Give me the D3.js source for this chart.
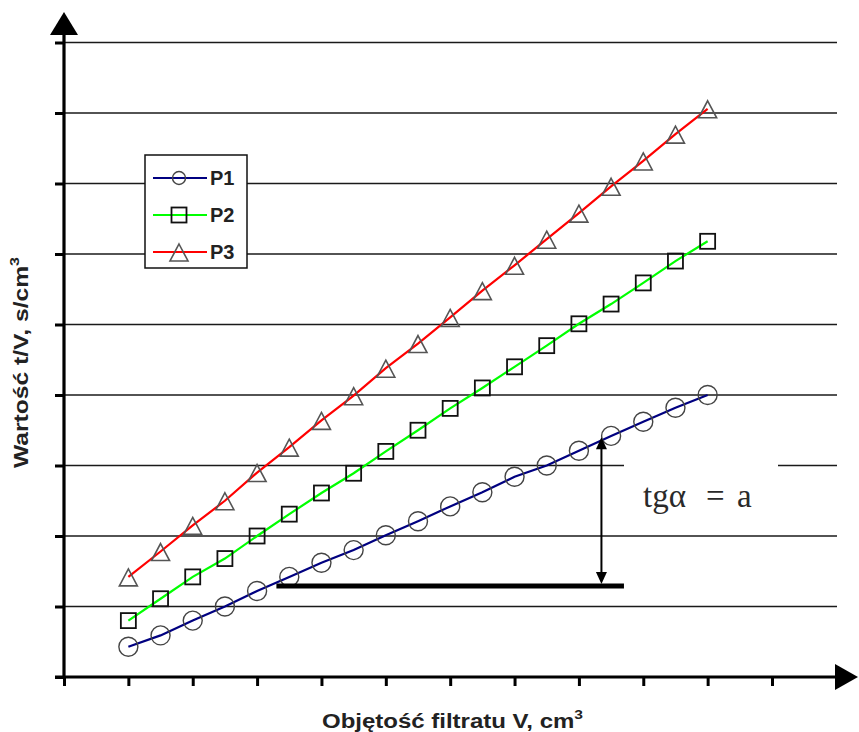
<!DOCTYPE html>
<html>
<head>
<meta charset="utf-8">
<script src="https://cdn.jsdelivr.net/npm/d3@7"></script>
<style>
  html, body { margin: 0; padding: 0; background: #fff; }
  svg { display: block; }
</style>
</head>
<body>
<svg id="chart" width="859" height="732"></svg>
<script>
// ---- data ----
const volumes = [1, 1.5, 2, 2.5, 3, 3.5, 4, 4.5, 5, 5.5, 6, 6.5, 7, 7.5, 8, 8.5, 9, 9.5, 10];
const seriesNames = ["P1", "P2", "P3"];
const p1 = [0.43, 0.59, 0.80, 1.00, 1.22, 1.42, 1.62, 1.80, 2.01, 2.21, 2.42, 2.62, 2.84, 3.00, 3.21, 3.42, 3.62, 3.82, 4.00];
const p2 = [0.80, 1.11, 1.42, 1.68, 2.00, 2.31, 2.61, 2.89, 3.20, 3.50, 3.81, 4.10, 4.40, 4.70, 5.01, 5.29, 5.59, 5.90, 6.18];
const p3 = [1.42, 1.78, 2.15, 2.50, 2.90, 3.26, 3.64, 3.99, 4.38, 4.73, 5.10, 5.48, 5.84, 6.21, 6.58, 6.96, 7.32, 7.70, 8.06];
const xTicks = [0, 1, 2, 3, 4, 5, 6, 7, 8, 9, 10, 11];
const yTicks = [0, 1, 2, 3, 4, 5, 6, 7, 8, 9];
const xLabel = "Objętość filtratu V, cm";
const yLabel = "Wartość t/V, s/cm";
const annotationParts = ["tgα", "=", "a"];
// annotation in data units
const slopeBase = { x0: 3.3, x1: 8.7, y: 1.29 };
const slopeArrow = { x: 8.35, y0: 1.32, y1: 3.40 };

// ---- layout ----
const svg = d3.select("#chart");
const x = d3.scaleLinear().domain([0, 11]).range([64, 772]);
const y = d3.scaleLinear().domain([0, 9]).range([677, 42.5]);
const colors = { P1: "#000080", P2: "#00ff00", P3: "#ff0000" };
const data = [p1, p2, p3].map((vals, i) => ({ name: seriesNames[i], values: vals.map((v, j) => ({ x: volumes[j], y: v })) }));

// gridlines
const grid = svg.append("g");
grid.selectAll("line").data(yTicks.filter(d => d > 0)).join("line")
  .attr("x1", x(0)).attr("x2", 837)
  .attr("y1", d => y(d)).attr("y2", d => y(d))
  .attr("stroke", "#1a1a1a").attr("stroke-width", 1.4);

// axes (ticks via d3 axes)
const yAxis = svg.append("g").attr("transform", `translate(${x(0)},0)`)
  .call(d3.axisLeft(y).tickValues(yTicks).tickSize(9).tickFormat(""));
const xAxis = svg.append("g").attr("transform", `translate(0,${y(0)})`)
  .call(d3.axisBottom(x).tickValues(xTicks).tickSize(9).tickFormat(""));
[yAxis, xAxis].forEach(a => {
  a.select(".domain").remove();
  a.selectAll(".tick line").attr("stroke", "#000").attr("stroke-width", 3);
});
// axis lines with arrows
svg.append("line").attr("x1", x(0)).attr("x2", x(0)).attr("y1", y(0) + 1.5).attr("y2", 30)
  .attr("stroke", "#000").attr("stroke-width", 3.2);
svg.append("path").attr("d", `M${x(0)},12 L${x(0) - 14},35 L${x(0) + 14},35 Z`).attr("fill", "#000");
svg.append("line").attr("x1", 55).attr("x2", 840).attr("y1", y(0)).attr("y2", y(0))
  .attr("stroke", "#000").attr("stroke-width", 3.2);
svg.append("path").attr("d", `M858,${y(0)} L835,${y(0) - 13} L835,${y(0) + 13} Z`).attr("fill", "#000");

// series lines
const line = d3.line().x(d => x(d.x)).y(d => y(d.y));
svg.append("g").selectAll("path").data(data).join("path")
  .attr("d", d => line(d.values))
  .attr("fill", "none")
  .attr("stroke", d => colors[d.name])
  .attr("stroke-width", 2.2);

// markers
const markerShape = {
  P1: g => g.append("circle").attr("r", 9.5).attr("fill", "none").attr("stroke", "#444").attr("stroke-width", 1.4),
  P2: g => g.append("rect").attr("x", -7.5).attr("y", -7.5).attr("width", 15).attr("height", 15)
        .attr("fill", "none").attr("stroke", "#111").attr("stroke-width", 1.8),
  P3: g => g.append("path").attr("d", "M0,-8 L9,9 L-9,9 Z")
        .attr("fill", "none").attr("stroke", "#555").attr("stroke-width", 1.6)
};
data.forEach(s => {
  svg.append("g").selectAll("g").data(s.values).join("g")
    .attr("transform", d => `translate(${x(d.x)},${y(d.y)})`)
    .each(function () { markerShape[s.name](d3.select(this)); });
});

// annotation
svg.append("line").attr("x1", x(slopeBase.x0)).attr("x2", x(slopeBase.x1))
  .attr("y1", y(slopeBase.y)).attr("y2", y(slopeBase.y))
  .attr("stroke", "#000").attr("stroke-width", 5);
const ax = x(slopeArrow.x), ayTop = y(slopeArrow.y1), ayBot = y(slopeArrow.y0);
svg.append("line").attr("x1", ax).attr("x2", ax).attr("y1", ayTop + 8).attr("y2", ayBot - 8)
  .attr("stroke", "#000").attr("stroke-width", 2);
svg.append("path").attr("d", `M${ax},${ayTop} L${ax - 5.5},${ayTop + 12} L${ax + 5.5},${ayTop + 12} Z`).attr("fill", "#000");
svg.append("path").attr("d", `M${ax},${ayBot} L${ax - 5.5},${ayBot - 12} L${ax + 5.5},${ayBot - 12} Z`).attr("fill", "#000");

// text box interrupting the gridline
svg.append("rect").attr("x", 624).attr("y", 455).attr("width", 154).attr("height", 60).attr("fill", "#fff");
const at = svg.append("text").attr("y", 507)
  .attr("font-family", "'Liberation Serif', 'Times New Roman', serif")
  .attr("font-size", 33).attr("fill", "#2a2a2a");
const partX = [643, 706, 737];
annotationParts.forEach((p, i) => at.append("tspan").attr("x", partX[i]).text(p));

// legend
const lg = svg.append("g");
lg.append("rect").attr("x", 145).attr("y", 155).attr("width", 102).attr("height", 113)
  .attr("fill", "#fff").attr("stroke", "#111").attr("stroke-width", 1.5);
seriesNames.forEach((name, i) => {
  const ly = 178 + i * 37;
  lg.append("line").attr("x1", 153).attr("x2", 207).attr("y1", ly).attr("y2", ly)
    .attr("stroke", colors[name]).attr("stroke-width", 2.2);
  const m = lg.append("g").attr("transform", `translate(179,${ly})`);
  if (name === "P1") m.append("circle").attr("r", 6.5).attr("fill", "none").attr("stroke", "#444").attr("stroke-width", 1.4);
  if (name === "P2") m.append("rect").attr("x", -7.5).attr("y", -7.5).attr("width", 15).attr("height", 15).attr("fill", "none").attr("stroke", "#111").attr("stroke-width", 1.8);
  if (name === "P3") m.append("path").attr("d", "M0,-8 L9,9 L-9,9 Z").attr("fill", "none").attr("stroke", "#555").attr("stroke-width", 1.6);
  lg.append("text").attr("x", 210).attr("y", ly + 7)
    .attr("font-family", "'Liberation Sans', Arial, sans-serif")
    .attr("font-size", 20).attr("font-weight", "bold").attr("fill", "#222")
    .text(name);
});

// axis titles
const xt = svg.append("text").attr("x", 322).attr("y", 728)
  .attr("font-family", "'Liberation Sans', Arial, sans-serif").attr("font-weight", "bold")
  .attr("font-size", 20).attr("fill", "#222")
  .attr("textLength", 261).attr("lengthAdjust", "spacingAndGlyphs");
xt.append("tspan").text(xLabel);
xt.append("tspan").attr("dy", -9).attr("font-size", 13).text("3");

const yt = svg.append("text").attr("transform", "translate(28,468) rotate(-90)")
  .attr("font-family", "'Liberation Sans', Arial, sans-serif").attr("font-weight", "bold")
  .attr("font-size", 20).attr("fill", "#222")
  .attr("textLength", 211).attr("lengthAdjust", "spacingAndGlyphs");
yt.append("tspan").text(yLabel);
yt.append("tspan").attr("dy", -9).attr("font-size", 13).text("3");
</script>
</body>
</html>
